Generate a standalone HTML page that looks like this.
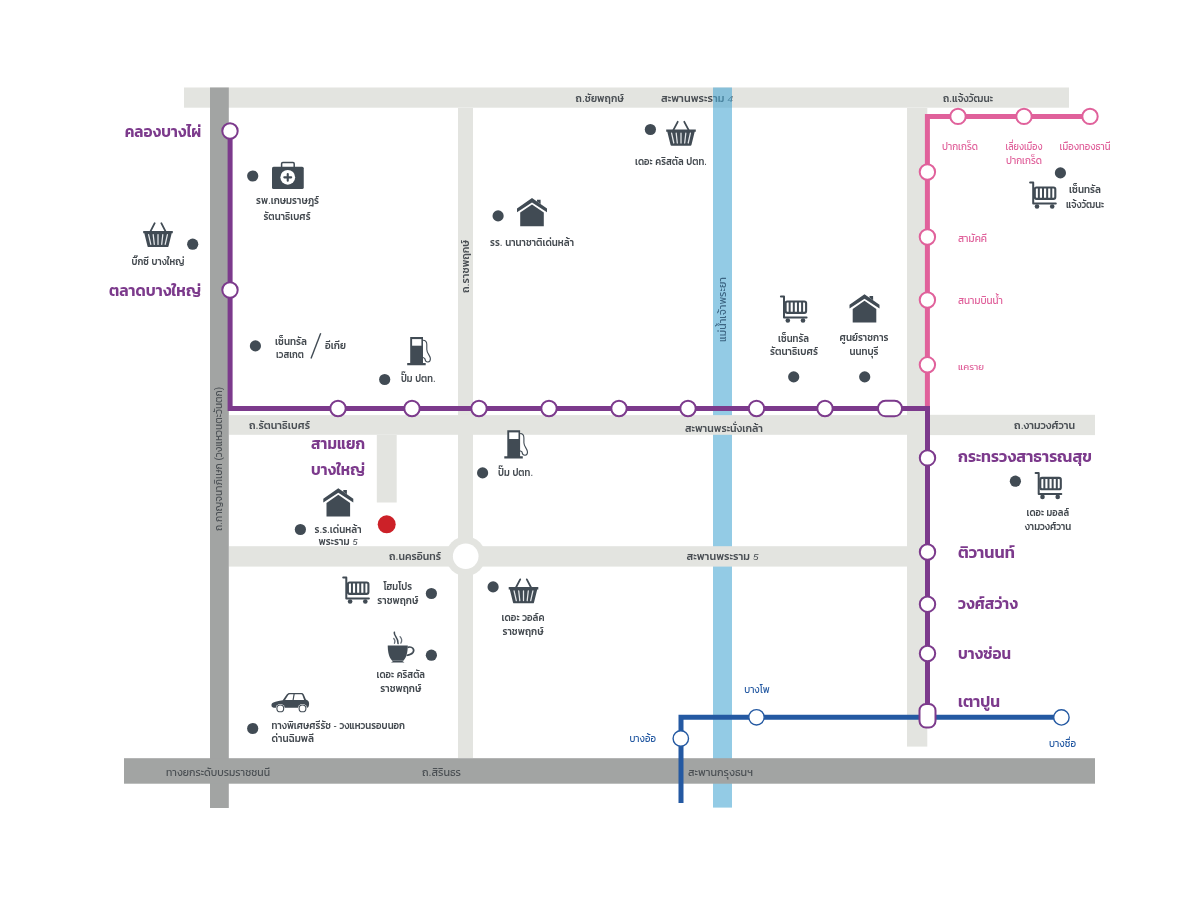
<!DOCTYPE html>
<html lang="th">
<head>
<meta charset="utf-8">
<title>แผนที่โครงการ</title>
<style>
html,body{margin:0;padding:0;background:#fff;}
body{width:1200px;height:900px;overflow:hidden;}
svg{display:block;will-change:transform;}
text{font-family:'Liberation Sans', 'Kanit', 'Prompt', 'Noto Sans Thai', sans-serif;}
.rd{font-size:10.6px;font-weight:500;fill:#4a4f54;}
.rdd{font-size:10.6px;font-weight:400;fill:#4b5054;}
.dg{font-style:italic;font-size:92%;}
.rv{font-size:11px;font-weight:400;fill:#3c6583;}
.p{font-size:10.4px;font-weight:500;fill:#43494f;}
.big{font-size:16.9px;font-weight:600;fill:#7c3a8c;}
.pk{font-size:11px;font-weight:400;fill:#e0619b;}
.pk2{font-size:9.5px;font-weight:400;fill:#e0619b;}
.bl{font-size:11px;font-weight:400;fill:#2459a2;}
</style>
</head>
<body>
<svg width="1200" height="900" viewBox="0 0 1200 900">
<rect width="1200" height="900" fill="#fff"/>
<g id="road-top">
<rect x="184" y="87.5" width="885" height="20.2" fill="#e3e4e0"/>
<text class="rd" x="575.6" y="102" textLength="48.2" lengthAdjust="spacingAndGlyphs">ถ.ชัยพฤกษ์</text>
<text class="rd" x="661" y="102" textLength="72" lengthAdjust="spacingAndGlyphs">สะพานพระราม <tspan class="dg">4</tspan></text>
<text class="rd" x="943" y="102" textLength="50" lengthAdjust="spacingAndGlyphs">ถ.แจ้งวัฒนะ</text>
</g>
<rect x="713" y="87.5" width="19" height="720.1" fill="#4ba8d4" opacity="0.6"/>
<text class="rv" x="726" y="342" textLength="65" lengthAdjust="spacingAndGlyphs" transform="rotate(-90 726 342)">แม่น้ำเจ้าพระยา</text>
<g id="roads-light">
<rect x="458" y="108" width="15" height="650" fill="#e3e4e0"/>
<rect x="907" y="108" width="20.3" height="638.6" fill="#e3e4e0"/>
<rect x="228.8" y="415.1" width="699.2" height="19.7" fill="#e3e4e0"/>
<rect x="927" y="414.8" width="168" height="20.3" fill="#e3e4e0"/>
<rect x="376.8" y="435" width="19.9" height="67.5" fill="#e3e4e0"/>
<rect x="228.8" y="546.2" width="678.2" height="20.4" fill="#e3e4e0"/>
<circle cx="465.7" cy="556.2" r="19.8" fill="#e3e4e0"/>
<circle cx="465.7" cy="556.2" r="12.8" fill="#fff"/>
<text class="rd" x="249" y="429" textLength="61" lengthAdjust="spacingAndGlyphs">ถ.รัตนาธิเบศร์</text>
<text class="rd" x="685" y="432" textLength="78" lengthAdjust="spacingAndGlyphs">สะพานพระนั่งเกล้า</text>
<text class="rd" x="1014" y="429" textLength="61" lengthAdjust="spacingAndGlyphs">ถ.งามวงศ์วาน</text>
<text class="rd" x="389" y="560" textLength="52" lengthAdjust="spacingAndGlyphs">ถ.นครอินทร์</text>
<text class="rd" x="686.5" y="560" textLength="72" lengthAdjust="spacingAndGlyphs">สะพานพระราม <tspan class="dg">5</tspan></text>
<text class="rd" x="468.5" y="293" textLength="53" lengthAdjust="spacingAndGlyphs" transform="rotate(-90 468.5 293)">ถ.ราชพฤกษ์</text>
</g>
<g id="roads-dark">
<rect x="210" y="87.5" width="18.8" height="720.5" fill="#a2a4a3"/>
<rect x="124" y="758.2" width="971" height="25.5" fill="#a2a4a3"/>
<text class="rdd" x="166" y="776" textLength="104" lengthAdjust="spacingAndGlyphs">ทางยกระดับบรมราชชนนี</text>
<text class="rdd" x="422" y="776" textLength="39" lengthAdjust="spacingAndGlyphs">ถ.สิรินธร</text>
<text class="rdd" x="688" y="776" textLength="65" lengthAdjust="spacingAndGlyphs">สะพานกรุงธนฯ</text>
<text class="rdd" x="222" y="531" textLength="144" lengthAdjust="spacingAndGlyphs" transform="rotate(-90 222 531)">ถ.กาญจนาภิเษก (วงแหวนตะวันตก)</text>
</g>
<g id="lines" fill="none">
<path d="M1090 116.5 H927.4 V410" stroke="#e0619b" stroke-width="5" stroke-linejoin="miter"/>
<path d="M681 803 V717.3 H1062" stroke="#2459a2" stroke-width="5" stroke-linejoin="miter"/>
<path d="M230.1 131 V408.5 H927.5 V716" stroke="#7c3a8c" stroke-width="5" stroke-linejoin="miter"/>
</g>
<g id="stations">
<circle cx="958" cy="116.4" r="7.7" fill="#fff" stroke="#e0619b" stroke-width="2"/>
<circle cx="1024" cy="116.4" r="7.7" fill="#fff" stroke="#e0619b" stroke-width="2"/>
<circle cx="1090" cy="116.4" r="7.7" fill="#fff" stroke="#e0619b" stroke-width="2"/>
<circle cx="927.4" cy="172" r="7.7" fill="#fff" stroke="#e0619b" stroke-width="2"/>
<circle cx="927.4" cy="237" r="7.7" fill="#fff" stroke="#e0619b" stroke-width="2"/>
<circle cx="927.4" cy="300" r="7.7" fill="#fff" stroke="#e0619b" stroke-width="2"/>
<circle cx="927.4" cy="364.8" r="7.7" fill="#fff" stroke="#e0619b" stroke-width="2"/>
<circle cx="230" cy="131" r="7.7" fill="#fff" stroke="#7c3a8c" stroke-width="2"/>
<circle cx="230" cy="290" r="7.7" fill="#fff" stroke="#7c3a8c" stroke-width="2"/>
<circle cx="338" cy="408.5" r="7.7" fill="#fff" stroke="#7c3a8c" stroke-width="2"/>
<circle cx="412" cy="408.5" r="7.7" fill="#fff" stroke="#7c3a8c" stroke-width="2"/>
<circle cx="479" cy="408.5" r="7.7" fill="#fff" stroke="#7c3a8c" stroke-width="2"/>
<circle cx="549" cy="408.5" r="7.7" fill="#fff" stroke="#7c3a8c" stroke-width="2"/>
<circle cx="619" cy="408.5" r="7.7" fill="#fff" stroke="#7c3a8c" stroke-width="2"/>
<circle cx="688" cy="408.5" r="7.7" fill="#fff" stroke="#7c3a8c" stroke-width="2"/>
<circle cx="756.5" cy="408.5" r="7.7" fill="#fff" stroke="#7c3a8c" stroke-width="2"/>
<circle cx="825" cy="408.5" r="7.7" fill="#fff" stroke="#7c3a8c" stroke-width="2"/>
<circle cx="927.5" cy="457.9" r="7.7" fill="#fff" stroke="#7c3a8c" stroke-width="2"/>
<circle cx="927.5" cy="552" r="7.7" fill="#fff" stroke="#7c3a8c" stroke-width="2"/>
<circle cx="927.5" cy="604.2" r="7.7" fill="#fff" stroke="#7c3a8c" stroke-width="2"/>
<circle cx="927.5" cy="653.5" r="7.7" fill="#fff" stroke="#7c3a8c" stroke-width="2"/>
<rect x="878" y="400.8" width="24" height="15.5" rx="7.5" fill="#fff" stroke="#7c3a8c" stroke-width="2"/>
<circle cx="680.8" cy="738.5" r="7.7" fill="#fff" stroke="#2459a2" stroke-width="1.4"/>
<circle cx="756.5" cy="717.3" r="7.7" fill="#fff" stroke="#2459a2" stroke-width="1.4"/>
<circle cx="1061.4" cy="717.4" r="7.7" fill="#fff" stroke="#2459a2" stroke-width="1.4"/>
<rect x="919.5" y="704" width="16" height="23.5" rx="6.5" fill="#fff" stroke="#7c3a8c" stroke-width="2"/>
</g>
<g id="dots" fill="#414b54">
<circle cx="252.7" cy="176.0" r="5.6"/>
<circle cx="192.7" cy="244.2" r="5.6"/>
<circle cx="255.4" cy="345.9" r="5.6"/>
<circle cx="384.7" cy="379.5" r="5.6"/>
<circle cx="650.4" cy="129.5" r="5.6"/>
<circle cx="498.1" cy="215.9" r="5.6"/>
<circle cx="793.7" cy="376.9" r="5.6"/>
<circle cx="864.7" cy="376.9" r="5.6"/>
<circle cx="1060.4" cy="172.9" r="5.6"/>
<circle cx="482.6" cy="472.9" r="5.6"/>
<circle cx="300.4" cy="529.5" r="5.6"/>
<circle cx="1015.4" cy="481.2" r="5.6"/>
<circle cx="431.4" cy="593.5" r="5.6"/>
<circle cx="493.1" cy="586.9" r="5.6"/>
<circle cx="431.4" cy="655.2" r="5.6"/>
<circle cx="252.7" cy="728.5" r="5.6"/>
</g>
<circle cx="386.7" cy="524.3" r="9" fill="#cc2128"/>
<g id="icons">
<g transform="translate(272 166.75)"><path d="M9.6 0.4 V-3 Q9.6 -4.2 10.8 -4.2 H21 Q22.2 -4.2 22.2 -3 V0.4" fill="none" stroke="#414b54" stroke-width="1.5"/><rect x="0" y="0" width="31.75" height="22.25" rx="1.6" fill="#414b54"/><circle cx="15.75" cy="10.6" r="7.4" fill="#fff"/><path d="M12.3 10.6 H19.2 M15.75 7.2 V14" stroke="#414b54" stroke-width="2.1" stroke-linecap="round"/></g>
<g transform="translate(143 222.6)"><path d="M11.7 0.6 L7.2 9.2 M18.3 0.6 L22.8 9.2" stroke="#414b54" stroke-width="1.8" fill="none" stroke-linecap="round"/><path d="M0.2 8.3 H29.8 V10.6 H28.7 L25.5 23.6 Q25.3 24.5 24.4 24.5 H5.6 Q4.7 24.5 4.5 23.6 L1.3 10.6 H0.2 Z" fill="#414b54"/><path d="M5.6 12 L7.8 21.8 M10.2 12 L11.3 21.8 M15 12 V21.8 M19.8 12 L18.7 21.8 M24.4 12 L22.2 21.8" stroke="#e4e7ea" stroke-width="1.25" fill="none" stroke-linecap="round"/></g>
<g transform="translate(666 121.2)"><path d="M11.7 0.6 L7.2 9.2 M18.3 0.6 L22.8 9.2" stroke="#414b54" stroke-width="1.8" fill="none" stroke-linecap="round"/><path d="M0.2 8.3 H29.8 V10.6 H28.7 L25.5 23.6 Q25.3 24.5 24.4 24.5 H5.6 Q4.7 24.5 4.5 23.6 L1.3 10.6 H0.2 Z" fill="#414b54"/><path d="M5.6 12 L7.8 21.8 M10.2 12 L11.3 21.8 M15 12 V21.8 M19.8 12 L18.7 21.8 M24.4 12 L22.2 21.8" stroke="#e4e7ea" stroke-width="1.25" fill="none" stroke-linecap="round"/></g>
<g transform="translate(508.5 578.8)"><path d="M11.7 0.6 L7.2 9.2 M18.3 0.6 L22.8 9.2" stroke="#414b54" stroke-width="1.8" fill="none" stroke-linecap="round"/><path d="M0.2 8.3 H29.8 V10.6 H28.7 L25.5 23.6 Q25.3 24.5 24.4 24.5 H5.6 Q4.7 24.5 4.5 23.6 L1.3 10.6 H0.2 Z" fill="#414b54"/><path d="M5.6 12 L7.8 21.8 M10.2 12 L11.3 21.8 M15 12 V21.8 M19.8 12 L18.7 21.8 M24.4 12 L22.2 21.8" stroke="#e4e7ea" stroke-width="1.25" fill="none" stroke-linecap="round"/></g>
<g transform="translate(407.2 337)"><path d="M3 0 H15.8 V26 H18.5 V28.3 H0 V26 H3 Z" fill="#414b54"/><rect x="4.9" y="2.1" width="9.3" height="6.6" fill="#fff"/><path d="M15.8 3.2 C18.6 3.2 19.6 5 19.6 7.6 V12.5 C19.6 16.5 23.2 18.5 23.2 21.8 C23.2 25.6 18.6 26.6 17.6 21.6 L15.8 20.4" fill="none" stroke="#414b54" stroke-width="1.1"/></g>
<g transform="translate(504.3 430.3)"><path d="M3 0 H15.8 V26 H18.5 V28.3 H0 V26 H3 Z" fill="#414b54"/><rect x="4.9" y="2.1" width="9.3" height="6.6" fill="#fff"/><path d="M15.8 3.2 C18.6 3.2 19.6 5 19.6 7.6 V12.5 C19.6 16.5 23.2 18.5 23.2 21.8 C23.2 25.6 18.6 26.6 17.6 21.6 L15.8 20.4" fill="none" stroke="#414b54" stroke-width="1.1"/></g>
<g transform="translate(532 198)" fill="#414b54"><path d="M0 0 L15 10.4 V14.2 L0 4.4 L-15 14.2 V10.4 Z"/><path d="M5 1.7 H8.6 V6 L5 3.5 Z"/><path d="M0 6.5 L11.8 14.6 V28.3 H-11.8 V14.6 Z"/></g>
<g transform="translate(864.5 294.3)" fill="#414b54"><path d="M0 0 L15 10.4 V14.2 L0 4.4 L-15 14.2 V10.4 Z"/><path d="M5 1.7 H8.6 V6 L5 3.5 Z"/><path d="M0 6.5 L11.8 14.6 V28.3 H-11.8 V14.6 Z"/></g>
<g transform="translate(338.3 488.3)" fill="#414b54"><path d="M0 0 L15 10.4 V14.2 L0 4.4 L-15 14.2 V10.4 Z"/><path d="M5 1.7 H8.6 V6 L5 3.5 Z"/><path d="M0 6.5 L11.8 14.6 V28.3 H-11.8 V14.6 Z"/></g>
<g transform="translate(780 295.6)"><path d="M0.9 1 H4 V22 H26.6" fill="none" stroke="#414b54" stroke-width="2" stroke-linecap="round" stroke-linejoin="round"/><rect x="5.6" y="5.9" width="20.5" height="11.4" rx="1.8" fill="#fff" stroke="#414b54" stroke-width="2.1"/><path d="M9.65 5.9 V17.3 M13.8 5.9 V17.3 M17.95 5.9 V17.3 M22.1 5.9 V17.3" stroke="#414b54" stroke-width="2"/><circle cx="7.8" cy="24.9" r="2.3" fill="#414b54"/><circle cx="23" cy="24.9" r="2.3" fill="#414b54"/></g>
<g transform="translate(1029.2 181.6)"><path d="M0.9 1 H4 V22 H26.6" fill="none" stroke="#414b54" stroke-width="2" stroke-linecap="round" stroke-linejoin="round"/><rect x="5.6" y="5.9" width="20.5" height="11.4" rx="1.8" fill="#fff" stroke="#414b54" stroke-width="2.1"/><path d="M9.65 5.9 V17.3 M13.8 5.9 V17.3 M17.95 5.9 V17.3 M22.1 5.9 V17.3" stroke="#414b54" stroke-width="2"/><circle cx="7.8" cy="24.9" r="2.3" fill="#414b54"/><circle cx="23" cy="24.9" r="2.3" fill="#414b54"/></g>
<g transform="translate(1034.7 472)"><path d="M0.9 1 H4 V22 H26.6" fill="none" stroke="#414b54" stroke-width="2" stroke-linecap="round" stroke-linejoin="round"/><rect x="5.6" y="5.9" width="20.5" height="11.4" rx="1.8" fill="#fff" stroke="#414b54" stroke-width="2.1"/><path d="M9.65 5.9 V17.3 M13.8 5.9 V17.3 M17.95 5.9 V17.3 M22.1 5.9 V17.3" stroke="#414b54" stroke-width="2"/><circle cx="7.8" cy="24.9" r="2.3" fill="#414b54"/><circle cx="23" cy="24.9" r="2.3" fill="#414b54"/></g>
<g transform="translate(342.3 576.6)"><path d="M0.9 1 H4 V22 H26.6" fill="none" stroke="#414b54" stroke-width="2" stroke-linecap="round" stroke-linejoin="round"/><rect x="5.6" y="5.9" width="20.5" height="11.4" rx="1.8" fill="#fff" stroke="#414b54" stroke-width="2.1"/><path d="M9.65 5.9 V17.3 M13.8 5.9 V17.3 M17.95 5.9 V17.3 M22.1 5.9 V17.3" stroke="#414b54" stroke-width="2"/><circle cx="7.8" cy="24.9" r="2.3" fill="#414b54"/><circle cx="23" cy="24.9" r="2.3" fill="#414b54"/></g>
<g transform="translate(387.75 645.5)"><path d="M0 0 H20 C20 6.2 19 11.6 15.6 15.3 H4.4 C1 11.6 0 6.2 0 0 Z" fill="#414b54"/><path d="M3.3 17 L5.4 15.5 H14.6 L16.7 17 Z" fill="#414b54"/><path d="M19.8 1.9 C24.6 0.4 27.2 4 25.2 7 C23.6 9.2 21.2 9.6 18.8 10" fill="none" stroke="#414b54" stroke-width="1.7"/><path d="M6.6 -13.2 C5.6 -9.6 11.2 -7.4 10.3 -2" fill="none" stroke="#414b54" stroke-width="1.6" stroke-linecap="round"/><path d="M6 -7 C7.6 -5.4 7.3 -3.6 6.7 -2.2 M12.3 -8.8 C14.2 -6.6 14.4 -4.4 13.1 -2.4" fill="none" stroke="#69717a" stroke-width="1.3" stroke-linecap="round"/></g>
<g transform="translate(271.3 693)"><path d="M0.2 11.6 C0.6 9.6 3 8.6 11.4 7.2 L15.4 1.6 C16.2 0.5 17 0 18.4 0 H30 C31.4 0 32 0.6 32.6 1.8 L34.6 6.6 C36.8 7.4 37.8 8.6 37.8 10.6 C37.8 12.8 37.4 14.4 36 14.8 H2.4 C0.6 14.4 0 13.4 0.2 11.6 Z" fill="#414b54"/><path d="M13.8 7 L17 2 C17.4 1.5 17.8 1.3 18.6 1.3 H22.2 L21.2 7 Z M23.4 1.3 H29.6 C30.4 1.3 30.8 1.6 31.1 2.3 L32.8 7 H22.4 Z" fill="#fff"/><circle cx="9" cy="15.4" r="4.5" fill="#fff"/><circle cx="31.2" cy="15.4" r="4.5" fill="#fff"/><circle cx="9" cy="15.4" r="3.4" fill="#fff" stroke="#414b54" stroke-width="1.1"/><circle cx="31.2" cy="15.4" r="3.4" fill="#fff" stroke="#414b54" stroke-width="1.1"/></g>
<path d="M320.7 333.2 L311 358.4" stroke="#414b54" stroke-width="1.4" fill="none"/>
</g>
<g id="big">
<text class="big" x="201.2" y="136.5" text-anchor="end" textLength="76.5" lengthAdjust="spacingAndGlyphs">คลองบางไผ่</text>
<text class="big" x="201" y="295.5" text-anchor="end" textLength="92" lengthAdjust="spacingAndGlyphs">ตลาดบางใหญ่</text>
<text class="big" x="311" y="449" textLength="54" lengthAdjust="spacingAndGlyphs">สามแยก</text>
<text class="big" x="311" y="475" textLength="54" lengthAdjust="spacingAndGlyphs">บางใหญ่</text>
<text class="big" x="958" y="462" textLength="134" lengthAdjust="spacingAndGlyphs">กระทรวงสาธารณสุข</text>
<text class="big" x="958" y="558" textLength="56.8" lengthAdjust="spacingAndGlyphs">ติวานนท์</text>
<text class="big" x="958" y="609" textLength="60" lengthAdjust="spacingAndGlyphs">วงศ์สว่าง</text>
<text class="big" x="958" y="658.8" textLength="53" lengthAdjust="spacingAndGlyphs">บางซ่อน</text>
<text class="big" x="958" y="706.5" textLength="42" lengthAdjust="spacingAndGlyphs">เตาปูน</text>
</g>
<g id="sm">
<text class="pk" x="960" y="150" text-anchor="middle" textLength="36" lengthAdjust="spacingAndGlyphs">ปากเกร็ด</text>
<text class="pk" x="1024" y="150" text-anchor="middle" textLength="37" lengthAdjust="spacingAndGlyphs">เลี่ยงเมือง</text>
<text class="pk" x="1024" y="164" text-anchor="middle" textLength="36" lengthAdjust="spacingAndGlyphs">ปากเกร็ด</text>
<text class="pk" x="1085" y="150" text-anchor="middle" textLength="51" lengthAdjust="spacingAndGlyphs">เมืองทองธานี</text>
<text class="pk" x="958" y="242" textLength="29" lengthAdjust="spacingAndGlyphs">สามัคคี</text>
<text class="pk" x="958" y="304" textLength="45" lengthAdjust="spacingAndGlyphs">สนามบินน้ำ</text>
<text class="pk2" x="958" y="369.5" textLength="26" lengthAdjust="spacingAndGlyphs">แคราย</text>
<text class="bl" x="744.2" y="693.4" textLength="25.5" lengthAdjust="spacingAndGlyphs">บางโพ</text>
<text class="bl" x="629.4" y="741.5" textLength="26.5" lengthAdjust="spacingAndGlyphs">บางอ้อ</text>
<text class="bl" x="1049" y="747" textLength="27" lengthAdjust="spacingAndGlyphs">บางซื่อ</text>
</g>
<g id="poi">
<text class="p" x="287.5" y="204.2" text-anchor="middle" textLength="63" lengthAdjust="spacingAndGlyphs">รพ.เกษมราษฎร์</text>
<text class="p" x="287" y="220.2" text-anchor="middle" textLength="47" lengthAdjust="spacingAndGlyphs">รัตนาธิเบศร์</text>
<text class="p" x="158" y="265.2" text-anchor="middle" textLength="53" lengthAdjust="spacingAndGlyphs">บิ๊กซี บางใหญ่</text>
<text class="p" x="291" y="345.2" text-anchor="middle" textLength="32" lengthAdjust="spacingAndGlyphs">เซ็นทรัล</text>
<text class="p" x="290" y="357.5" text-anchor="middle" textLength="28" lengthAdjust="spacingAndGlyphs">เวสเกต</text>
<text class="p" x="325" y="349.2" textLength="21" lengthAdjust="spacingAndGlyphs">อีเกีย</text>
<text class="p" x="401" y="382.2" textLength="34.5" lengthAdjust="spacingAndGlyphs">ปั๊ม ปตท.</text>
<text class="p" x="635" y="165.2" textLength="72" lengthAdjust="spacingAndGlyphs">เดอะ คริสตัล ปตท.</text>
<text class="p" x="490" y="246.2" textLength="84" lengthAdjust="spacingAndGlyphs">รร. นานาชาติเด่นหล้า</text>
<text class="p" x="793.5" y="341.8" text-anchor="middle" textLength="31" lengthAdjust="spacingAndGlyphs">เซ็นทรัล</text>
<text class="p" x="794" y="355.2" text-anchor="middle" textLength="48" lengthAdjust="spacingAndGlyphs">รัตนาธิเบศร์</text>
<text class="p" x="864" y="341.2" text-anchor="middle" textLength="49" lengthAdjust="spacingAndGlyphs">ศูนย์ราชการ</text>
<text class="p" x="864" y="355.2" text-anchor="middle" textLength="29" lengthAdjust="spacingAndGlyphs">นนทบุรี</text>
<text class="p" x="1085" y="193.2" text-anchor="middle" textLength="32" lengthAdjust="spacingAndGlyphs">เซ็นทรัล</text>
<text class="p" x="1085" y="208.2" text-anchor="middle" textLength="38" lengthAdjust="spacingAndGlyphs">แจ้งวัฒนะ</text>
<text class="p" x="498" y="476.2" textLength="35" lengthAdjust="spacingAndGlyphs">ปั๊ม ปตท.</text>
<text class="p" x="338" y="533.2" text-anchor="middle" textLength="47" lengthAdjust="spacingAndGlyphs">ร.ร.เด่นหล้า</text>
<text class="p" x="338" y="545.2" text-anchor="middle" textLength="39" lengthAdjust="spacingAndGlyphs">พระราม <tspan class="dg">5</tspan></text>
<text class="p" x="1047.8" y="516.0" text-anchor="middle" textLength="42.5" lengthAdjust="spacingAndGlyphs">เดอะ มอลล์</text>
<text class="p" x="1048" y="530.0" text-anchor="middle" textLength="46.5" lengthAdjust="spacingAndGlyphs">งามวงศ์วาน</text>
<text class="p" x="397.8" y="590.1" text-anchor="middle" textLength="28.5" lengthAdjust="spacingAndGlyphs">โฮมโปร</text>
<text class="p" x="397.8" y="603.9" text-anchor="middle" textLength="41" lengthAdjust="spacingAndGlyphs">ราชพฤกษ์</text>
<text class="p" x="523" y="621.2" text-anchor="middle" textLength="43" lengthAdjust="spacingAndGlyphs">เดอะ วอล์ค</text>
<text class="p" x="523" y="635.2" text-anchor="middle" textLength="41" lengthAdjust="spacingAndGlyphs">ราชพฤกษ์</text>
<text class="p" x="400.8" y="677.8" text-anchor="middle" textLength="48.5" lengthAdjust="spacingAndGlyphs">เดอะ คริสตัล</text>
<text class="p" x="400.8" y="692.4" text-anchor="middle" textLength="41" lengthAdjust="spacingAndGlyphs">ราชพฤกษ์</text>
<text class="p" x="271.6" y="728.7" textLength="133.5" lengthAdjust="spacingAndGlyphs">ทางพิเศษศรีรัช - วงแหวนรอบนอก</text>
<text class="p" x="271.6" y="742.0" textLength="42.5" lengthAdjust="spacingAndGlyphs">ด่านฉิมพลี</text>
</g>
</svg>
</body>
</html>
